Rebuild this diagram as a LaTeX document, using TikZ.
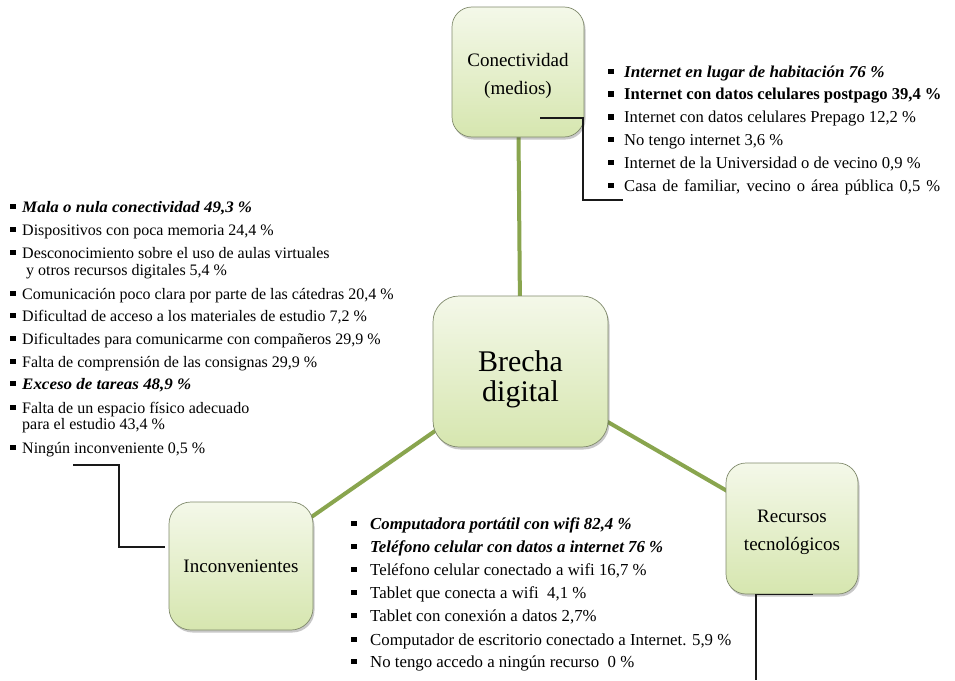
\documentclass[tikz,border=0pt]{standalone}
\usepackage{fontspec}
\usepackage{graphicx}
\setmainfont{Liberation Serif}
\usetikzlibrary{shadows}
\pgfdeclarelayer{bg}
\pgfdeclarelayer{links}
\pgfsetlayers{bg,links,main}

\definecolor{boxtop}{RGB}{244,248,233}
\definecolor{boxbot}{RGB}{214,230,175}
\definecolor{boxedge}{RGB}{128,138,108}
\definecolor{linkgreen}{RGB}{137,165,78}
\definecolor{ink}{RGB}{25,25,25}

\newcommand\sqb[1]{\makebox[#1][l]{\raisebox{3pt}{\rule{5.5pt}{5.5pt}}}}
\newcommand\bix[2]{\scalebox{#1}[1]{\textbf{\textit{#2}}}}

\tikzset{
  topic/.style={draw=boxedge, line width=0.7pt, top color=boxtop, bottom color=boxbot,
    inner sep=0pt,
    drop shadow={shadow xshift=1.5pt, shadow yshift=-2.5pt, opacity=0.3, fill=black!70}},
  topiclabel/.style={inner sep=0pt, align=center, font=\fontsize{19}{28}\selectfont},
  link/.style={draw=linkgreen, line width=4pt},
  blk/.style={draw=ink, line width=1.3pt},
  listtext/.style={anchor=base west, inner sep=0pt, text=black},
  trlist/.style={listtext, font=\fontsize{16.6}{18}\selectfont},
  llist/.style={listtext, font=\fontsize{16}{18}\selectfont},
  blist/.style={listtext, font=\fontsize{16.8}{18}\selectfont}
}

\begin{document}
\begin{tikzpicture}[x=1pt,y=-1pt]
\begin{pgfonlayer}{bg}
\fill[white] (0,0) rectangle (955,680);
\end{pgfonlayer}
\useasboundingbox (0,0) rectangle (955,680);

% main boxes
\node[topic, minimum width=132pt, minimum height=130pt, rounded corners=20pt] (conect) at (518,72) {};
\node[topiclabel] (conectlabel) at ([yshift=-4pt]conect.center) {Conectividad\\(medios)};
\node[topic, minimum width=175pt, minimum height=151pt, rounded corners=26pt] (brecha) at (520.5,371.5) {};
\node[topiclabel, font=\fontsize{30}{30}\selectfont] (brechalabel) at ([yshift=-8pt]brecha.center) {Brecha\\digital};
\node[topic, minimum width=144pt, minimum height=128pt, rounded corners=22pt] (incon) at (241,566) {};
\node[topiclabel] (inconlabel) at (incon.center) {Inconvenientes};
\node[topic, minimum width=132pt, minimum height=131pt, rounded corners=20pt] (recursos) at (792,528.5) {};
\node[topiclabel] (recursoslabel) at ([yshift=-4pt]recursos.center) {Recursos\\tecnológicos};

% green links
\begin{pgfonlayer}{links}
\draw[link] (conect.center) -- (brecha.center);
\draw[link] (brecha.center) -- (incon.center);
\draw[link] (brecha.center) -- (recursos.center);
\end{pgfonlayer}

% top-right list
\node[trlist] (tr1) at (608,77) {\sqb{16pt}\bix{1.03}{Internet en lugar de habitación 76 \%}};
\node[trlist] (tr2) at (608,99.8) {\sqb{16pt}\textbf{Internet con datos celulares postpago 39,4 \%}};
\node[trlist] (tr3) at (608,122.6) {\sqb{16pt}Internet con datos celulares Prepago 12,2 \%};
\node[trlist] (tr4) at (608,145.4) {\sqb{16pt}No tengo internet 3,6 \%};
\node[trlist] (tr5) at (608,168.2) {\sqb{16pt}Internet de la Universidad o de vecino 0,9 \%};
\node[trlist] (tr6) at (608,191) {\sqb{16pt}\makebox[316pt][s]{Casa de familiar, vecino o área pública 0,5 \%}};

% left list
\node[llist] (l1) at (10,212) {\sqb{12pt}\bix{1.06}{Mala o nula conectividad 49,3 \%}};
\node[llist] (l2) at (10,235) {\sqb{12pt}Dispositivos con poca memoria 24,4 \%};
\node[llist] (l3) at (10,258) {\sqb{12pt}Desconocimiento sobre el uso de aulas virtuales};
\node[llist] (l4) at (26,275) {y otros recursos digitales 5,4 \%};
\node[llist] (l5) at (10,299) {\sqb{12pt}Comunicación poco clara por parte de las cátedras 20,4 \%};
\node[llist] (l6) at (10,321) {\sqb{12pt}Dificultad de acceso a los materiales de estudio 7,2 \%};
\node[llist] (l7) at (10,344) {\sqb{12pt}Dificultades para comunicarme con compañeros 29,9 \%};
\node[llist] (l8) at (10,367) {\sqb{12pt}Falta de comprensión de las consignas 29,9 \%};
\node[llist] (l9) at (10,389) {\sqb{12pt}\bix{1.06}{Exceso de tareas 48,9 \%}};
\node[llist] (l10) at (10,413) {\sqb{12pt}Falta de un espacio físico adecuado};
\node[llist] (l11) at (22,429) {para el estudio 43,4 \%};
\node[llist] (l12) at (10,453) {\sqb{12pt}Ningún inconveniente 0,5 \%};

% bottom list
\node[blist] (b1) at (351,529) {\sqb{19pt}\textbf{\textit{Computadora portátil con wifi 82,4 \%}}};
\node[blist] (b2) at (351,552) {\sqb{19pt}\textbf{\textit{Teléfono celular con datos a internet 76 \%}}};
\node[blist] (b3) at (351,575) {\sqb{19pt}Teléfono celular conectado a wifi 16,7 \%};
\node[blist] (b4) at (351,598) {\sqb{19pt}Tablet que conecta a wifi~ 4,1 \%};
\node[blist] (b5) at (351,621) {\sqb{19pt}Tablet con conexión a datos 2,7\%};
\node[blist] (b6) at (351,645) {\sqb{19pt}Computador de escritorio conectado a Internet. 5,9 \%};
\node[blist] (b7) at (351,667) {\sqb{19pt}No tengo accedo a ningún recurso~ 0 \%};

% black connectors
\coordinate (tA) at (540,118);
\coordinate (tB) at (623,200);
\draw[blk] (tA) -- ++(43,0) |- (tB);
\coordinate (lA) at (73,465);
\draw[blk] (lA) -- ++(46,0) |- ([xshift=-4pt,yshift=19pt]incon.west);
\coordinate (rB) at (756,680);
\draw[blk] ([xshift=21pt]recursos.south) -- ([xshift=-36pt]recursos.south) -- (rB);
\end{tikzpicture}
\end{document}
